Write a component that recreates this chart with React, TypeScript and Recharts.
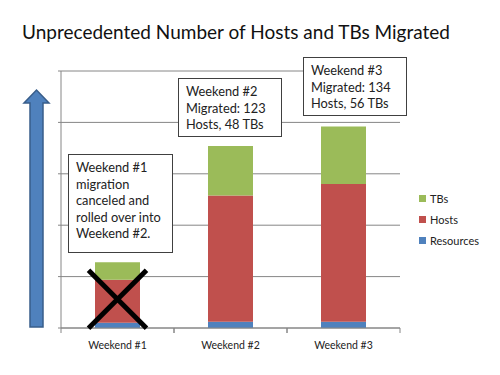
import { BarChart, Bar, XAxis, YAxis, CartesianGrid, Legend, ReferenceDot } from 'recharts';

const WEEKENDS = ['Weekend #1', 'Weekend #2', 'Weekend #3'];
const RESOURCES = [5, 6, 6];
const HOSTS = [42, 123, 134];
const TBS = [17, 48, 56];
const Y_TICKS = [0, 50, 100, 150, 200, 250];
const LEGEND_ORDER = ['TBs', 'Hosts', 'Resources'];

const TITLE = 'Unprecedented Number of Hosts and TBs Migrated';
const NOTE_1 = ['Weekend #1', 'migration', 'canceled and', 'rolled over into', 'Weekend #2.'];
const NOTE_2 = ['Weekend #2', 'Migrated: 123', 'Hosts, 48 TBs'];
const NOTE_3 = ['Weekend #3', 'Migrated: 134', 'Hosts, 56 TBs'];

const FONT = 'Lato, "Open Sans", sans-serif';
const GRID = '#868686';

const data = WEEKENDS.map((w, i) => ({
  name: w,
  Resources: RESOURCES[i],
  Hosts: HOSTS[i],
  TBs: TBS[i],
}));

// category label + little boundary ticks like excel draws them
function WeekTick(props: any) {
  const { x, y, payload } = props;
  const half = payload?.offset || 56.5;
  return (
    <g>
      <line x1={x - half} x2={x - half} y1={y} y2={y + 5} stroke={GRID} />
      <line x1={x + half} x2={x + half} y1={y} y2={y + 5} stroke={GRID} />
      <text x={x} y={y + 21} textAnchor="middle" fontSize={10.5} fill="#222" fontFamily={FONT}>
        {payload.value}
      </text>
    </g>
  );
}

const NoLabel = () => <g />;

function CrossOut(props: any) {
  const { cx, cy } = props;
  const s = 29;
  return (
    <g stroke="#000" strokeWidth={5}>
      <line x1={cx - s} y1={cy - s} x2={cx + s} y2={cy + s} />
      <line x1={cx - s} y1={cy + s} x2={cx + s} y2={cy - s} />
    </g>
  );
}

function LegendBox({ payload }: any) {
  const items = LEGEND_ORDER.map((k) => (payload || []).find((p: any) => p.value === k)).filter(Boolean);
  return (
    <div style={{ fontFamily: FONT, fontSize: 11, color: '#222' }}>
      {items.map((it: any) => (
        <div key={it.value} style={{ display: 'flex', alignItems: 'center', height: 21 }}>
          <span style={{ width: 7, height: 7, background: it.color, marginRight: 4, display: 'inline-block' }} />
          {it.value}
        </div>
      ))}
    </div>
  );
}

function Note({ lines, style }: { lines: string[]; style: any }) {
  return (
    <div
      style={{
        position: 'absolute',
        background: '#fff',
        border: '1.5px solid #404040',
        boxSizing: 'border-box',
        padding: '4px 7px',
        fontFamily: FONT,
        fontSize: 12.8,
        lineHeight: '16.5px',
        color: '#222',
        whiteSpace: 'nowrap',
        ...style,
      }}
    >
      {lines.map((l) => (
        <div key={l}>{l}</div>
      ))}
    </div>
  );
}

export default function App() {
  return (
    <div style={{ position: 'absolute', left: 0, top: 0, width: 500, height: 375, background: '#fff' }}>
      <div
        style={{
          position: 'absolute',
          left: 22,
          top: 21,
          fontFamily: FONT,
          fontSize: 19,
          lineHeight: '22px',
          color: '#111',
          whiteSpace: 'nowrap',
        }}
      >
        {TITLE}
      </div>
      <svg width={500} height={375} style={{ position: 'absolute', left: 0, top: 0 }}>
        <polygon
          points="30,327 43,327 43,103 49,103 36.5,90 24,103 30,103"
          fill="#4f81bd"
          stroke="#385d8a"
          strokeWidth={1.5}
        />
      </svg>
      <div style={{ position: 'absolute', left: 0, top: 0 }}>
        <BarChart
          width={500}
          height={375}
          data={data}
          margin={{ top: 71, right: 100, bottom: 17, left: 60 }}
        >
          <CartesianGrid vertical={false} stroke={GRID} />
          <XAxis
            dataKey="name"
            height={30}
            axisLine={{ stroke: GRID }}
            tickLine={false}
            tickSize={0}
            tickMargin={0}
            tick={<WeekTick />}
            interval={0}
          />
          <YAxis
            width={1}
            domain={[0, 250]}
            ticks={Y_TICKS}
            interval={0}
            tick={<NoLabel />}
            tickSize={3}
            axisLine={{ stroke: GRID }}
            tickLine={{ stroke: GRID }}
          />
          <Legend
            layout="vertical"
            align="center"
            verticalAlign="middle"
            content={<LegendBox />}
            wrapperStyle={{ left: 419, top: 188, width: 80 }}
          />
          <Bar dataKey="Resources" stackId="a" fill="#4f81bd" barSize={45} isAnimationActive={false} />
          <Bar dataKey="Hosts" stackId="a" fill="#c0504d" barSize={45} isAnimationActive={false} />
          <Bar dataKey="TBs" stackId="a" fill="#9bbb59" barSize={45} isAnimationActive={false} />
          <ReferenceDot x="Weekend #1" y={28} r={0} shape={<CrossOut />} />
        </BarChart>
      </div>
      <Note lines={NOTE_1} style={{ left: 68, top: 154, width: 105, height: 99 }} />
      <Note lines={NOTE_2} style={{ left: 178, top: 78, width: 104, height: 59 }} />
      <Note lines={NOTE_3} style={{ left: 303, top: 57, width: 104, height: 59 }} />
    </div>
  );
}
